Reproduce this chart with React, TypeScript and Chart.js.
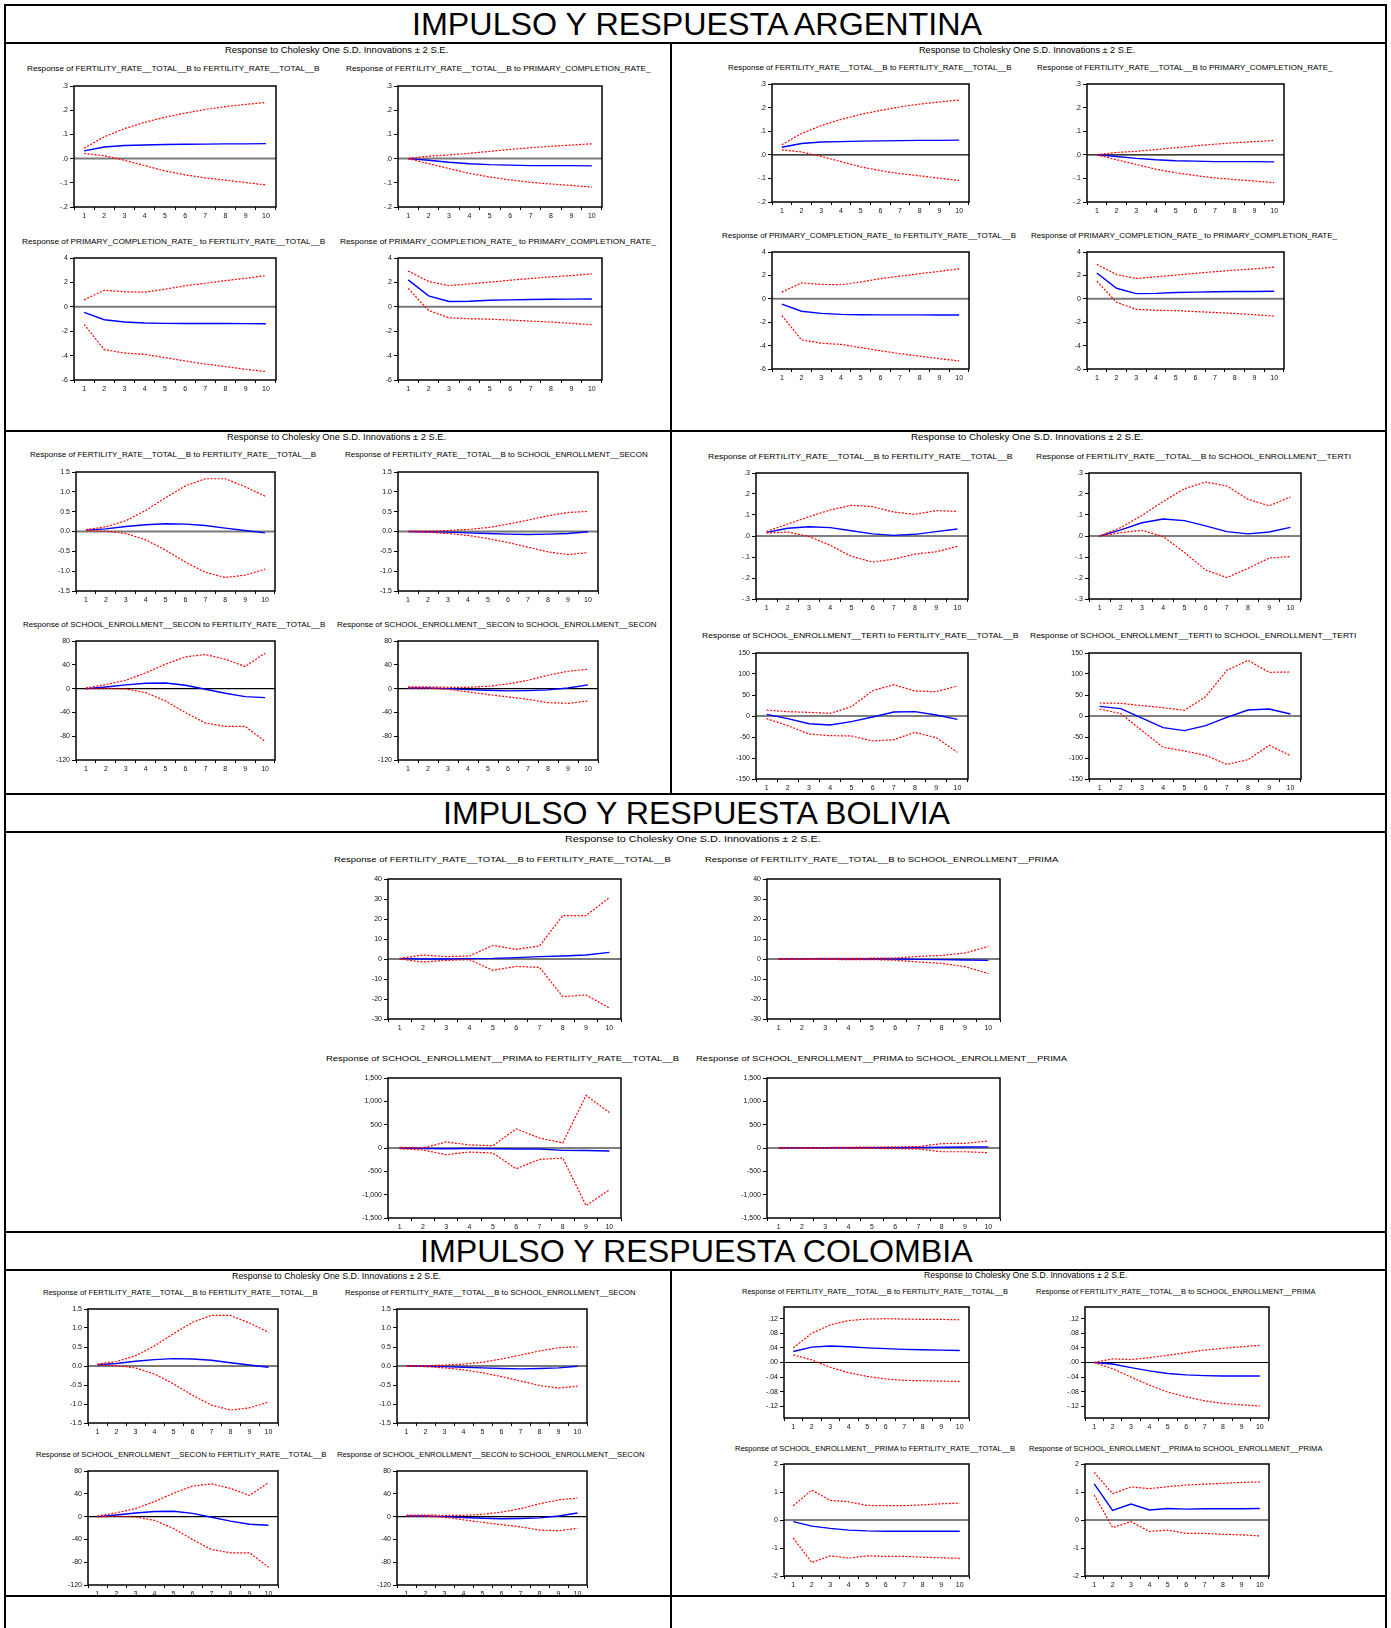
import React, { useEffect, useLayoutEffect, useRef } from "react";
import { Chart, registerables } from "chart.js";
Chart.register(...registerables);

const FONT = '"Liberation Sans", Arial, Helvetica, sans-serif';

// ---------- shared labels ----------
const PERIODS = ["1", "2", "3", "4", "5", "6", "7", "8", "9", "10"];
const HEADER = "Response to Cholesky One S.D. Innovations \u00b1 2 S.E.";
const TITLE_ARG = "IMPULSO Y RESPUESTA ARGENTINA";
const TITLE_BOL = "IMPULSO Y RESPUESTA BOLIVIA";
const TITLE_COL = "IMPULSO Y RESPUESTA COLOMBIA";

const V_FERT = "FERTILITY_RATE__TOTAL__B";
const V_PCR = "PRIMARY_COMPLETION_RATE_";
const V_SEC = "SCHOOL_ENROLLMENT__SECON";
const V_TER = "SCHOOL_ENROLLMENT__TERTI";
const V_PRI = "SCHOOL_ENROLLMENT__PRIMA";

// ---------- y tick values / labels ----------
const TICKS_A = [-0.2, -0.1, 0, 0.1, 0.2, 0.3];
const LABELS_A = ["-.2", "-.1", ".0", ".1", ".2", ".3"];
const TICKS_B = [-6, -4, -2, 0, 2, 4];
const LABELS_B = ["-6", "-4", "-2", "0", "2", "4"];
const TICKS_C = [-1.5, -1, -0.5, 0, 0.5, 1, 1.5];
const LABELS_C = ["-1.5", "-1.0", "-0.5", "0.0", "0.5", "1.0", "1.5"];
const TICKS_D = [-120, -80, -40, 0, 40, 80];
const LABELS_D = ["-120", "-80", "-40", "0", "40", "80"];
const TICKS_E = [-0.3, -0.2, -0.1, 0, 0.1, 0.2, 0.3];
const LABELS_E = ["-.3", "-.2", "-.1", ".0", ".1", ".2", ".3"];
const TICKS_F = [-150, -100, -50, 0, 50, 100, 150];
const LABELS_F = ["-150", "-100", "-50", "0", "50", "100", "150"];
const TICKS_G = [-30, -20, -10, 0, 10, 20, 30, 40];
const LABELS_G = ["-30", "-20", "-10", "0", "10", "20", "30", "40"];
const TICKS_H = [-1500, -1000, -500, 0, 500, 1000, 1500];
const LABELS_H = ["-1,500", "-1,000", "-500", "0", "500", "1,000", "1,500"];
const TICKS_I = [-0.12, -0.08, -0.04, 0, 0.04, 0.08, 0.12];
const LABELS_I = ["-.12", "-.08", "-.04", ".00", ".04", ".08", ".12"];
const TICKS_J = [-2, -1, 0, 1, 2];
const LABELS_J = ["-2", "-1", "0", "1", "2"];

// ---------- Argentina: fertility / primary completion ----------
const ARG_P_FF_RESP = [0.032, 0.048, 0.054, 0.056, 0.058, 0.059, 0.06, 0.061, 0.061, 0.062];
const ARG_P_FF_UP = [0.043, 0.09, 0.124, 0.15, 0.171, 0.188, 0.203, 0.215, 0.224, 0.232];
const ARG_P_FF_LO = [0.021, 0.012, -0.007, -0.029, -0.051, -0.067, -0.08, -0.089, -0.099, -0.109];
const ARG_P_FP_RESP = [0, -0.007, -0.015, -0.021, -0.025, -0.027, -0.029, -0.029, -0.029, -0.03];
const ARG_P_FP_UP = [0, 0.01, 0.015, 0.022, 0.03, 0.038, 0.045, 0.051, 0.056, 0.061];
const ARG_P_FP_LO = [0, -0.021, -0.041, -0.061, -0.076, -0.088, -0.098, -0.105, -0.111, -0.118];
const ARG_P_PF_RESP = [-0.46, -1.06, -1.25, -1.33, -1.36, -1.37, -1.37, -1.37, -1.38, -1.39];
const ARG_P_PF_UP = [0.57, 1.36, 1.23, 1.2, 1.44, 1.72, 1.93, 2.15, 2.34, 2.56];
const ARG_P_PF_LO = [-1.44, -3.51, -3.79, -3.9, -4.17, -4.44, -4.69, -4.9, -5.12, -5.31];
const ARG_P_PP_RESP = [2.21, 0.9, 0.44, 0.46, 0.54, 0.57, 0.6, 0.62, 0.63, 0.64];
const ARG_P_PP_UP = [2.94, 2.07, 1.74, 1.88, 2.02, 2.18, 2.32, 2.45, 2.56, 2.7];
const ARG_P_PP_LO = [1.5, -0.3, -0.9, -0.98, -1.01, -1.09, -1.17, -1.25, -1.36, -1.47];

// ---------- fertility / secondary enrollment (Argentina & Colombia) ----------
const SEC_FF_RESP = [0.034, 0.067, 0.126, 0.169, 0.194, 0.186, 0.152, 0.084, 0.025, -0.034];
const SEC_FF_UP = [0.05, 0.118, 0.27, 0.53, 0.85, 1.15, 1.33, 1.33, 1.13, 0.89];
const SEC_FF_LO = [0.025, 0.008, -0.05, -0.21, -0.47, -0.77, -1.03, -1.16, -1.1, -0.95];
const SEC_FS_RESP = [0, -0.008, -0.017, -0.034, -0.05, -0.067, -0.076, -0.067, -0.05, -0.008];
const SEC_FS_UP = [0, 0.008, 0.025, 0.05, 0.1, 0.186, 0.287, 0.396, 0.48, 0.506];
const SEC_FS_LO = [0, -0.017, -0.05, -0.1, -0.177, -0.278, -0.396, -0.514, -0.582, -0.531];
const SEC_SF_RESP = [0, 2.8, 6.2, 9.0, 9.5, 5.6, -1.1, -7.9, -13.5, -15.2];
const SEC_SF_UP = [1.1, 6.7, 14.0, 26.4, 41.0, 53.4, 57.3, 49.4, 37.1, 59.6];
const SEC_SF_LO = [-0.6, 0.6, -0.6, -6.7, -20.8, -40.4, -57.9, -63.5, -63.5, -88.8];
const SEC_SS_RESP = [1.1, 1.1, 0, -1.7, -2.8, -3.9, -3.4, -2.2, 1.1, 6.2];
const SEC_SS_UP = [2.8, 2.8, 2.2, 2.2, 3.9, 7.9, 14.0, 22.5, 29.2, 32.6];
const SEC_SS_LO = [1.1, 0.6, -1.1, -5.6, -10.1, -14.0, -18.0, -23.6, -24.7, -20.8];

// ---------- Argentina: fertility / tertiary enrollment ----------
const TER_FF_RESP = [0.017, 0.037, 0.044, 0.04, 0.025, 0.01, 0.003, 0.008, 0.021, 0.033];
const TER_FF_UP = [0.022, 0.057, 0.092, 0.124, 0.146, 0.14, 0.114, 0.103, 0.121, 0.117];
const TER_FF_LO = [0.014, 0.019, -0.002, -0.044, -0.097, -0.124, -0.11, -0.086, -0.075, -0.049];
const TER_FT_RESP = [0, 0.029, 0.063, 0.081, 0.073, 0.048, 0.021, 0.01, 0.019, 0.041];
const TER_FT_UP = [0, 0.04, 0.098, 0.165, 0.225, 0.257, 0.238, 0.175, 0.144, 0.186];
const TER_FT_LO = [0, 0.016, 0.027, -0.003, -0.078, -0.162, -0.198, -0.154, -0.105, -0.098];
const TER_TF_RESP = [4.0, -6.3, -18.3, -21.4, -13.5, -2.4, 9.5, 10.3, 2.4, -7.9];
const TER_TF_UP = [14.3, 10.3, 8.7, 6.3, 22.2, 60.3, 74.6, 59.5, 57.9, 71.4];
const TER_TF_LO = [-6.3, -23.0, -42.9, -46.8, -47.6, -59.5, -56.3, -38.9, -51.6, -86.5];
const TER_TT_RESP = [23.0, 17.5, -4.8, -27.8, -34.9, -23.0, -3.2, 14.3, 16.7, 4.8];
const TER_TT_UP = [31.0, 30.2, 24.6, 19.8, 13.5, 46.0, 108.7, 132.5, 104.0, 104.8];
const TER_TT_LO = [16.7, 5.6, -34.9, -74.6, -83.3, -93.7, -115.1, -104.0, -69.8, -94.4];

// ---------- Bolivia: fertility / primary enrollment ----------
const BOL_FF_RESP = [0.2, 0, 0, 0.2, 0.3, 0.7, 1.2, 1.5, 2.0, 3.3];
const BOL_FF_UP = [0.3, 2.0, 1.2, 1.5, 6.8, 4.8, 6.5, 21.7, 21.7, 30.7];
const BOL_FF_LO = [0, -1.5, -0.7, -0.3, -5.7, -3.7, -4.2, -18.8, -18.0, -24.5];
const BOL_FP_RESP = [0.05, 0.05, 0.05, 0.03, 0.02, 0, -0.2, -0.3, -0.5, -0.7];
const BOL_FP_UP = [0.2, 0.2, 0.3, 0.3, 0.4, 0.5, 1.3, 1.8, 3.0, 6.3];
const BOL_FP_LO = [-0.1, -0.2, -0.2, -0.3, -0.3, -0.6, -1.5, -2.2, -3.8, -7.3];
const BOL_PF_RESP = [0, -10, -15, -10, -15, -20, -20, -50, -55, -65];
const BOL_PF_UP = [14, 0, 129, 65, 50, 409, 215, 108, 1127, 761];
const BOL_PF_LO = [-14, -43, -144, -86, -108, -445, -244, -215, -1234, -897];
const BOL_PP_RESP = [5, 5, 5, 5, 5, 5, 10, 15, 20, 25];
const BOL_PP_UP = [10, 10, 10, 15, 20, 25, 30, 95, 100, 150];
const BOL_PP_LO = [0, 0, -5, -5, -10, -15, -20, -80, -80, -100];

// ---------- Colombia: fertility / primary enrollment ----------
const COL_FF_RESP = [0.03, 0.042, 0.045, 0.043, 0.04, 0.038, 0.036, 0.035, 0.034, 0.033];
const COL_FF_UP = [0.04, 0.08, 0.103, 0.115, 0.119, 0.12, 0.119, 0.118, 0.118, 0.117];
const COL_FF_LO = [0.021, 0.007, -0.013, -0.028, -0.038, -0.045, -0.049, -0.05, -0.051, -0.052];
const COL_FP_RESP = [0, -0.004, -0.014, -0.023, -0.03, -0.034, -0.036, -0.037, -0.037, -0.037];
const COL_FP_UP = [0, 0.01, 0.008, 0.013, 0.02, 0.027, 0.034, 0.039, 0.043, 0.047];
const COL_FP_LO = [0, -0.017, -0.04, -0.062, -0.081, -0.094, -0.105, -0.112, -0.116, -0.119];
const COL_PF_RESP = [-0.06, -0.22, -0.3, -0.36, -0.39, -0.4, -0.4, -0.4, -0.4, -0.4];
const COL_PF_UP = [0.51, 1.07, 0.7, 0.65, 0.52, 0.51, 0.51, 0.54, 0.58, 0.6];
const COL_PF_LO = [-0.64, -1.52, -1.28, -1.36, -1.28, -1.3, -1.3, -1.33, -1.35, -1.37];
const COL_PP_RESP = [1.29, 0.34, 0.57, 0.36, 0.41, 0.39, 0.4, 0.4, 0.4, 0.41];
const COL_PP_UP = [1.7, 0.94, 1.18, 1.12, 1.19, 1.25, 1.28, 1.31, 1.34, 1.36];
const COL_PP_LO = [0.89, -0.27, -0.06, -0.41, -0.36, -0.48, -0.48, -0.51, -0.53, -0.57];

// ---------- chart specs built from the arrays ----------
const ax = (ticks, labels, min, max) => ({ ticks, labels, min, max });
const AX_A = ax(TICKS_A, LABELS_A, -0.2, 0.3);
const AX_B = ax(TICKS_B, LABELS_B, -6, 4);
const AX_C = ax(TICKS_C, LABELS_C, -1.5, 1.5);
const AX_D = ax(TICKS_D, LABELS_D, -120, 80);
const AX_E = ax(TICKS_E, LABELS_E, -0.3, 0.3);
const AX_F = ax(TICKS_F, LABELS_F, -150, 150);
const AX_G = ax(TICKS_G, LABELS_G, -30, 40);
const AX_H = ax(TICKS_H, LABELS_H, -1500, 1500);
const AX_I = ax(TICKS_I, LABELS_I, -0.152, 0.152);
const AX_J = ax(TICKS_J, LABELS_J, -2, 2);

const spec = (title, resp, up, lo, axis) => ({ title, resp, up, lo, axis });
const rt = (a, b) => `Response of ${a} to ${b}`;

const SPEC_ARG_P = [
  spec(rt(V_FERT, V_FERT), ARG_P_FF_RESP, ARG_P_FF_UP, ARG_P_FF_LO, AX_A),
  spec(rt(V_FERT, V_PCR), ARG_P_FP_RESP, ARG_P_FP_UP, ARG_P_FP_LO, AX_A),
  spec(rt(V_PCR, V_FERT), ARG_P_PF_RESP, ARG_P_PF_UP, ARG_P_PF_LO, AX_B),
  spec(rt(V_PCR, V_PCR), ARG_P_PP_RESP, ARG_P_PP_UP, ARG_P_PP_LO, AX_B),
];
const SPEC_SEC = [
  spec(rt(V_FERT, V_FERT), SEC_FF_RESP, SEC_FF_UP, SEC_FF_LO, AX_C),
  spec(rt(V_FERT, V_SEC), SEC_FS_RESP, SEC_FS_UP, SEC_FS_LO, AX_C),
  spec(rt(V_SEC, V_FERT), SEC_SF_RESP, SEC_SF_UP, SEC_SF_LO, AX_D),
  spec(rt(V_SEC, V_SEC), SEC_SS_RESP, SEC_SS_UP, SEC_SS_LO, AX_D),
];
const SPEC_TER = [
  spec(rt(V_FERT, V_FERT), TER_FF_RESP, TER_FF_UP, TER_FF_LO, AX_E),
  spec(rt(V_FERT, V_TER), TER_FT_RESP, TER_FT_UP, TER_FT_LO, AX_E),
  spec(rt(V_TER, V_FERT), TER_TF_RESP, TER_TF_UP, TER_TF_LO, AX_F),
  spec(rt(V_TER, V_TER), TER_TT_RESP, TER_TT_UP, TER_TT_LO, AX_F),
];
const SPEC_BOL = [
  spec(rt(V_FERT, V_FERT), BOL_FF_RESP, BOL_FF_UP, BOL_FF_LO, AX_G),
  spec(rt(V_FERT, V_PRI), BOL_FP_RESP, BOL_FP_UP, BOL_FP_LO, AX_G),
  spec(rt(V_PRI, V_FERT), BOL_PF_RESP, BOL_PF_UP, BOL_PF_LO, AX_H),
  spec(rt(V_PRI, V_PRI), BOL_PP_RESP, BOL_PP_UP, BOL_PP_LO, AX_H),
];
const SPEC_COL = [
  spec(rt(V_FERT, V_FERT), COL_FF_RESP, COL_FF_UP, COL_FF_LO, AX_I),
  spec(rt(V_FERT, V_PRI), COL_FP_RESP, COL_FP_UP, COL_FP_LO, AX_I),
  spec(rt(V_PRI, V_FERT), COL_PF_RESP, COL_PF_UP, COL_PF_LO, AX_J),
  spec(rt(V_PRI, V_PRI), COL_PP_RESP, COL_PP_UP, COL_PP_LO, AX_J),
];

// ---------- layout (page pixels) ----------
// each chart: plot rect [l,t,r,b], title [x1,x2,cy], zero line style
const G = "grey";
const K = "black";
const PANELS = [
  {
    header: [224.7, 448, 50], specs: SPEC_ARG_P,
    charts: [
      { rect: [74, 86, 276, 207], title: [27, 319.6, 69], zero: G },
      { rect: [398, 86, 602, 207], title: [346, 650.6, 69], zero: G },
      { rect: [74, 258, 276, 380], title: [21.7, 325, 242], zero: G },
      { rect: [398, 258, 602, 380], title: [340, 656, 242], zero: G },
    ],
  },
  {
    header: [919, 1135, 50], specs: SPEC_ARG_P,
    charts: [
      { rect: [772, 84, 969, 202], title: [727.5, 1011, 68], zero: K },
      { rect: [1087, 84, 1284, 202], title: [1036.5, 1332, 68], zero: K },
      { rect: [772, 252, 969, 369], title: [722, 1016, 236], zero: G },
      { rect: [1087, 252, 1284, 369], title: [1031, 1337, 236], zero: G },
    ],
  },
  {
    header: [227, 446, 437], specs: SPEC_SEC,
    charts: [
      { rect: [76, 472, 275, 591], title: [30.4, 316.6, 455.3], zero: G },
      { rect: [398, 472, 598, 591], title: [344.8, 647.5, 455.3], zero: G },
      { rect: [76, 641, 275, 760], title: [22.6, 325, 625.3], zero: K },
      { rect: [398, 641, 598, 760], title: [336.5, 656, 625.3], zero: K },
    ],
  },
  {
    header: [911.4, 1143.6, 437], specs: SPEC_TER,
    charts: [
      { rect: [756, 473, 968, 599], title: [708, 1012.5, 457.3], zero: K },
      { rect: [1089, 473, 1301, 599], title: [1035.5, 1350.5, 457.3], zero: K },
      { rect: [756, 653, 968, 779], title: [702, 1018.5, 636], zero: K },
      { rect: [1089, 653, 1301, 779], title: [1029.6, 1356, 636], zero: K },
    ],
  },
  {
    header: [565, 820.8, 839.3], specs: SPEC_BOL,
    charts: [
      { rect: [388, 879, 621, 1019], title: [333.8, 670.6, 860], zero: G },
      { rect: [767, 879, 1000, 1019], title: [705.4, 1058.6, 860], zero: G },
      { rect: [388, 1078, 621, 1218], title: [325.9, 679, 1058.7], zero: K },
      { rect: [767, 1078, 1000, 1218], title: [696.4, 1067.5, 1058.7], zero: K },
    ],
  },
  {
    header: [232, 441, 1276], specs: SPEC_SEC,
    charts: [
      { rect: [88, 1309, 278, 1423], title: [43.4, 318, 1293.3], zero: G },
      { rect: [397, 1309, 587, 1423], title: [344.8, 635.4, 1293.3], zero: G },
      { rect: [88, 1471, 278, 1585], title: [35.6, 326, 1455.3], zero: K },
      { rect: [397, 1471, 587, 1585], title: [336.5, 644, 1455.3], zero: K },
    ],
  },
  {
    header: [924, 1127.5, 1275], specs: SPEC_COL,
    charts: [
      { rect: [784, 1307, 969, 1418], title: [742, 1008, 1292.3], zero: K },
      { rect: [1085, 1307, 1269, 1418], title: [1035.5, 1315, 1292.3], zero: K },
      { rect: [784, 1464, 969, 1576], title: [735, 1015, 1449], zero: K },
      { rect: [1085, 1464, 1269, 1576], title: [1028.6, 1322, 1449], zero: K },
    ],
  },
];

const BIG_TITLES = [
  { text: TITLE_ARG, x1: 412, x2: 982, cy: 23.5 },
  { text: TITLE_BOL, x1: 443, x2: 950, cy: 813 },
  { text: TITLE_COL, x1: 420, x2: 972.6, cy: 1251 },
];

const H_LINES = [5, 42.5, 430.5, 793.5, 832, 1231.5, 1269.5, 1596];
const V_SEGMENTS = [
  { x: 5, y1: 5, y2: 1628 },
  { x: 1386, y1: 5, y2: 1628 },
  { x: 671, y1: 42.5, y2: 793.5 },
  { x: 671, y1: 1269.5, y2: 1628 },
];

// ---------- components ----------
function FitText({ text, x1, x2, cy, size }) {
  const ref = useRef(null);
  useLayoutEffect(() => {
    const el = ref.current;
    if (!el) return;
    el.style.transform = "translateY(-50%)";
    const w = el.getBoundingClientRect().width;
    const s = w > 0 ? (x2 - x1) / w : 1;
    el.style.transform = `translateY(-50%) scaleX(${s})`;
  }, [text, x1, x2, size]);
  return (
    <span
      ref={ref}
      style={{
        position: "absolute",
        left: x1,
        top: cy,
        fontSize: size,
        lineHeight: 1,
        whiteSpace: "nowrap",
        transformOrigin: "0 0",
        fontFamily: FONT,
        color: "#000",
      }}
    >
      {text}
    </span>
  );
}

const PAD_L = 36;
const PAD_T = 6;
const PAD_R = 6;
const PAD_B = 20;

const irfPlugin = {
  id: "irf",
  beforeDatasetsDraw(chart, _args, opts) {
    const { ctx, chartArea } = chart;
    const y0 = chart.scales.y.getPixelForValue(0);
    ctx.save();
    ctx.strokeStyle = opts.zero === "grey" ? "#7a7a7a" : "#000";
    ctx.lineWidth = opts.zero === "grey" ? 2 : 1.2;
    ctx.beginPath();
    ctx.moveTo(chartArea.left, y0);
    ctx.lineTo(chartArea.right, y0);
    ctx.stroke();
    ctx.restore();
  },
  afterDraw(chart) {
    const { ctx, chartArea } = chart;
    ctx.save();
    ctx.strokeStyle = "#000";
    ctx.lineWidth = 1.5;
    ctx.strokeRect(chartArea.left, chartArea.top, chartArea.right - chartArea.left, chartArea.bottom - chartArea.top);
    ctx.restore();
  },
};

function IRFChart({ rect, s, zero }) {
  const ref = useRef(null);
  const [l, t, r, b] = rect;
  const width = r - l + PAD_L + PAD_R;
  const height = b - t + PAD_T + PAD_B;
  useEffect(() => {
    const tickFont = { family: FONT, size: 7 };
    const chart = new Chart(ref.current, {
      type: "line",
      data: {
        labels: PERIODS,
        datasets: [
          { data: s.up, borderColor: "#ff0000", borderWidth: 1.2, borderDash: [2, 1.5], pointRadius: 0, fill: false, tension: 0 },
          { data: s.lo, borderColor: "#ff0000", borderWidth: 1.2, borderDash: [2, 1.5], pointRadius: 0, fill: false, tension: 0 },
          { data: s.resp, borderColor: "#0000ff", borderWidth: 1.4, pointRadius: 0, fill: false, tension: 0 },
        ],
      },
      options: {
        animation: false,
        responsive: false,
        devicePixelRatio: 1,
        events: [],
        layout: { padding: { left: 0, top: PAD_T, right: PAD_R, bottom: 0 } },
        plugins: { legend: { display: false }, tooltip: { enabled: false }, irf: { zero } },
        scales: {
          x: {
            type: "category",
            offset: true,
            grid: { offset: true, drawOnChartArea: false, drawTicks: true, tickLength: 3, color: "#000", lineWidth: 1 },
            border: { display: false },
            ticks: { font: tickFont, color: "#111", padding: 2, maxRotation: 0, autoSkip: false },
            afterFit: (sc) => {
              sc.height = PAD_B;
              sc.paddingLeft = 0;
              sc.paddingRight = 0;
            },
          },
          y: {
            type: "linear",
            min: s.axis.min,
            max: s.axis.max,
            grid: { drawOnChartArea: false, drawTicks: true, tickLength: 4, color: "#000", lineWidth: 1 },
            border: { display: false },
            ticks: {
              font: tickFont,
              color: "#111",
              padding: 2,
              callback: (_v, i) => s.axis.labels[i],
            },
            afterBuildTicks: (sc) => {
              sc.ticks = s.axis.ticks.map((v) => ({ value: v }));
            },
            afterFit: (sc) => {
              sc.width = PAD_L;
              sc.paddingTop = 0;
              sc.paddingBottom = 0;
            },
          },
        },
      },
      plugins: [irfPlugin],
    });
    return () => chart.destroy();
  }, []);
  return (
    <canvas
      ref={ref}
      width={width}
      height={height}
      style={{ position: "absolute", left: l - PAD_L, top: t - PAD_T, width, height }}
    />
  );
}

export default function App() {
  return (
    <div
      style={{
        position: "absolute",
        left: 0,
        top: 0,
        width: 1391,
        height: 1628,
        overflow: "hidden",
        background: "#fff",
        fontFamily: FONT,
      }}
    >
      {H_LINES.map((y, i) => (
        <div key={"h" + i} style={{ position: "absolute", left: 4, top: y - 1, width: 1383, height: 2, background: "#000" }} />
      ))}
      {V_SEGMENTS.map((v, i) => (
        <div key={"v" + i} style={{ position: "absolute", left: v.x - 1, top: v.y1 - 1, width: 2, height: v.y2 - v.y1 + 1, background: "#000" }} />
      ))}
      {BIG_TITLES.map((bt, i) => (
        <FitText key={"t" + i} text={bt.text} x1={bt.x1} x2={bt.x2} cy={bt.cy} size={32} />
      ))}
      {PANELS.map((p, pi) => (
        <React.Fragment key={"p" + pi}>
          <FitText text={HEADER} x1={p.header[0]} x2={p.header[1]} cy={p.header[2]} size={9} />
          {p.charts.map((c, ci) => (
            <React.Fragment key={"c" + ci}>
              <FitText text={p.specs[ci].title} x1={c.title[0]} x2={c.title[1]} cy={c.title[2]} size={8} />
              <IRFChart rect={c.rect} s={p.specs[ci]} zero={c.zero} />
            </React.Fragment>
          ))}
        </React.Fragment>
      ))}
    </div>
  );
}
